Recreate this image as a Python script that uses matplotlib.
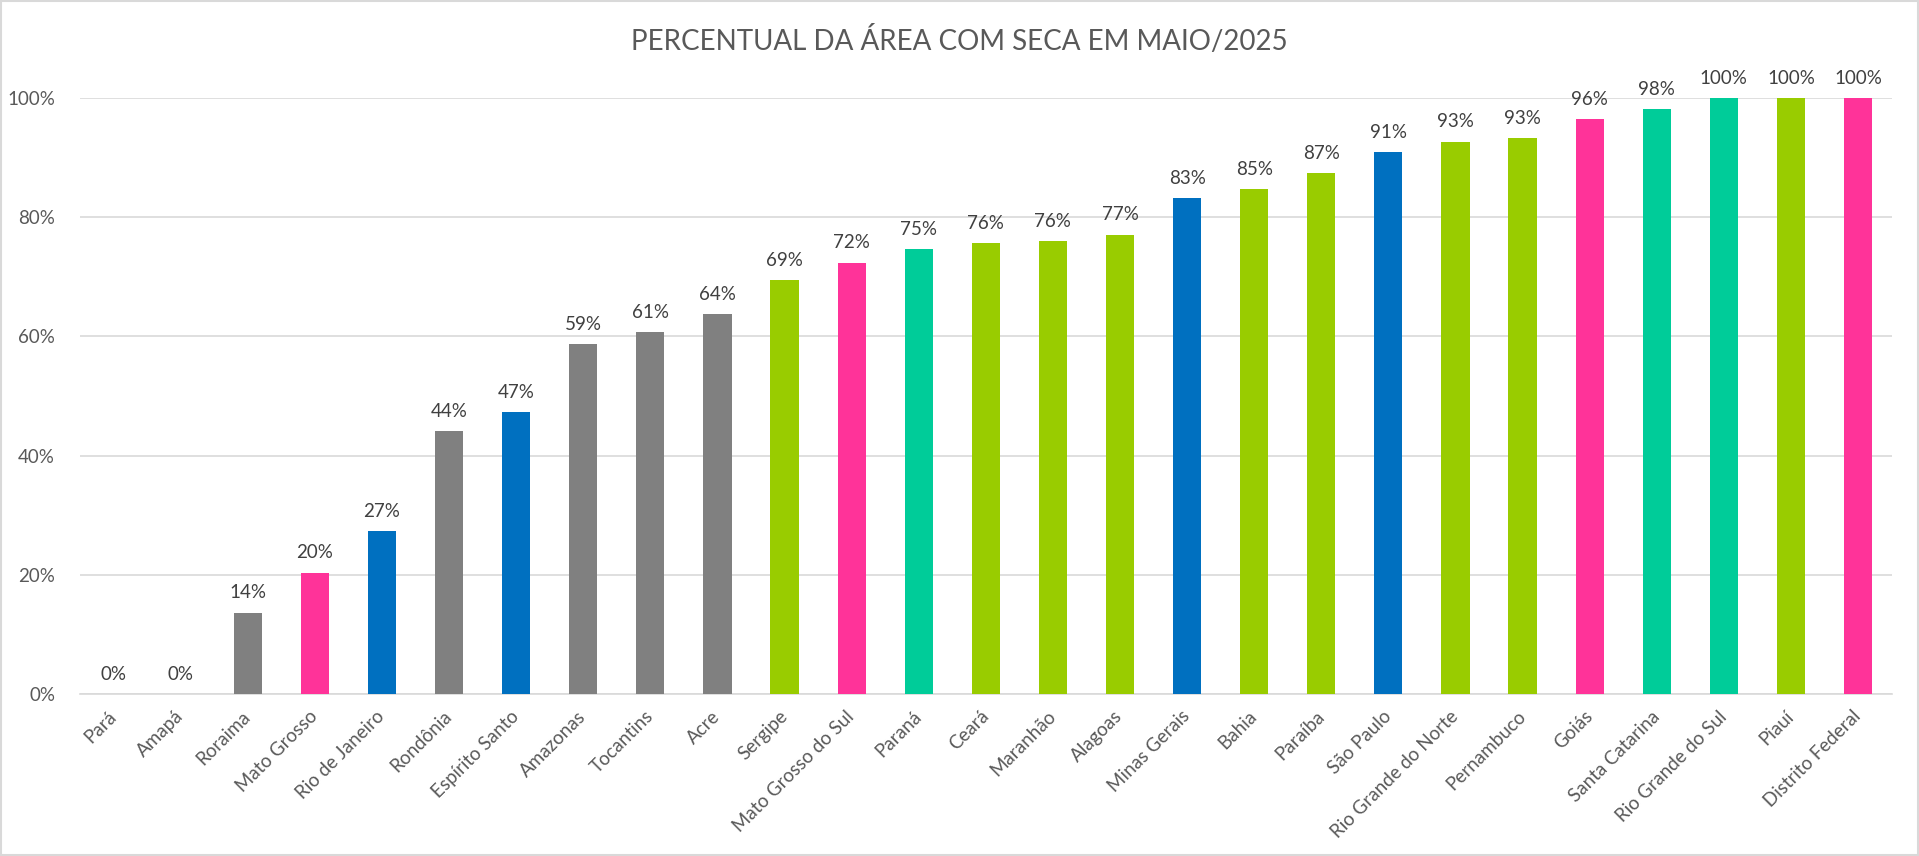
import matplotlib.pyplot as plt
from matplotlib.patches import Rectangle
from matplotlib.ticker import PercentFormatter

# dados
estados = ["Pará", "Amapá", "Roraima", "Mato Grosso", "Rio de Janeiro", "Rondônia",
           "Espírito Santo", "Amazonas", "Tocantins", "Acre", "Sergipe",
           "Mato Grosso do Sul", "Paraná", "Ceará", "Maranhão", "Alagoas",
           "Minas Gerais", "Bahia", "Paraíba", "São Paulo", "Rio Grande do Norte",
           "Pernambuco", "Goiás", "Santa Catarina", "Rio Grande do Sul", "Piauí",
           "Distrito Federal"]
percentual = [0, 0, 13.7, 20.4, 27.4, 44.2, 47.4, 58.8, 60.8, 63.8, 69.4, 72.4,
              74.7, 75.6, 76.0, 77.1, 83.2, 84.8, 87.4, 91.0, 92.7, 93.3, 96.5,
              98.2, 100, 100, 100]
regiao = ["N", "N", "N", "CO", "SE", "N", "SE", "N", "N", "N", "NE", "CO", "S",
          "NE", "NE", "NE", "SE", "NE", "NE", "SE", "NE", "NE", "CO", "S", "S",
          "NE", "CO"]

CORES = {"N": "#808080", "NE": "#99CC00", "CO": "#FF3399", "SE": "#0070C0", "S": "#00CC99"}
TXT = "#595959"

plt.rcParams['font.family'] = ['Lato', 'DejaVu Sans']

fig = plt.figure(figsize=(19.19, 8.56), dpi=100)
ax = fig.add_axes([0.0417, 0.189, 0.944, 0.6965])

x = range(len(estados))
bars = ax.bar(x, percentual, width=0.42, color=[CORES[r] for r in regiao], zorder=3)

for b, v in zip(bars, percentual):
    ax.annotate(f"{v:.0f}%", (b.get_x() + b.get_width() / 2, v),
                xytext=(0, 8), textcoords="offset points", ha="center", va="bottom",
                fontsize=13.5, color="#404040", clip_on=False)

ax.set_xlim(-0.5, len(estados) - 0.5)
ax.set_ylim(0, 100)
ax.set_yticks(range(0, 101, 20))
ax.yaxis.set_major_formatter(PercentFormatter(decimals=0))
ax.grid(axis="y", color="#D9D9D9", linewidth=1.2, zorder=0)
ax.tick_params(axis="both", length=0, labelsize=13.5, labelcolor=TXT)
ax.tick_params(axis="y", pad=18)
for s in ["top", "right", "left"]:
    ax.spines[s].set_visible(False)
ax.spines["bottom"].set_color("#D9D9D9")
ax.spines["bottom"].set_linewidth(1.2)

ax.set_xticks(list(x))
ax.set_xticklabels(estados, rotation=45, ha="right", va="center", rotation_mode="anchor")
ax.tick_params(axis="x", pad=14)

fig.text(0.5, 0.953, "PERCENTUAL DA ÁREA COM SECA EM MAIO/2025", ha="center", va="center",
         fontsize=20, color=TXT)

# borda da área do gráfico
fig.add_artist(Rectangle((0.0005, 0.001), 0.999, 0.998, transform=fig.transFigure,
                         fill=False, edgecolor="#D9D9D9", linewidth=1.5))

fig.savefig("out.png", dpi=100)
